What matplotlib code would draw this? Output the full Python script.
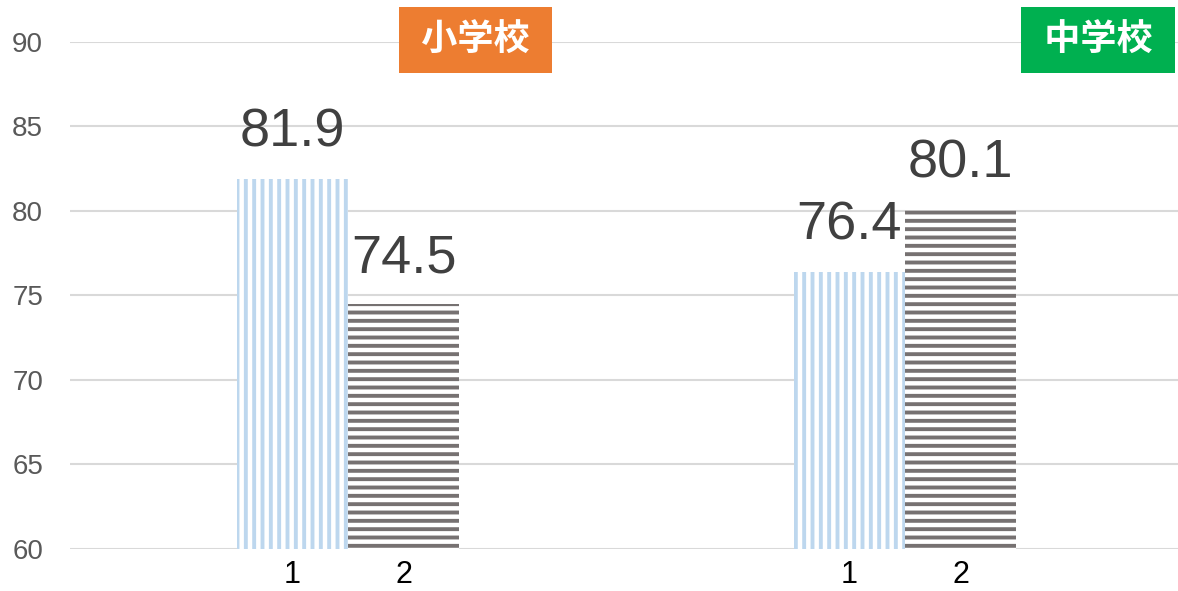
import matplotlib.pyplot as plt
import numpy as np

plt.rcParams['font.family'] = ['Liberation Sans', 'Noto Sans CJK JP', 'DejaVu Sans']
plt.rcParams['hatch.linewidth'] = 2.8

# データ
groups = ['小学校', '中学校']
series1 = [81.9, 76.4]   # 1
series2 = [74.5, 80.1]   # 2
bar_labels = ['1', '2']
group_colors = ['#ED7D31', '#00B050']

blue = '#BDD7EE'
grey = '#767171'
width = 0.2

fig = plt.figure(figsize=(11.78, 5.91), dpi=100)
ax = fig.add_axes([0.059, 0.0711, 0.9457, 0.858])

x = np.arange(len(groups))
b1 = ax.bar(x - width / 2, np.array(series1) - 60, width, bottom=60,
            facecolor='white', edgecolor=blue, hatch='||', linewidth=0, zorder=3)
b2 = ax.bar(x + width / 2, np.array(series2) - 60, width, bottom=60,
            facecolor='white', edgecolor=grey, hatch='--', linewidth=0, zorder=3)

# 数値ラベル
for bars, vals in [(b1, series1), (b2, series2)]:
    for rect, v in zip(bars, vals):
        ax.annotate(f'{v:.1f}', (rect.get_x() + rect.get_width() / 2, v),
                    xytext=(0, 15), textcoords='offset points',
                    ha='center', va='bottom', fontsize=39, color='#404040')

# 学校ラベル
label_x = [0.229, 1.347]
for gx, name, c in zip(label_x, groups, group_colors):
    ax.text(gx, 90.1, ' ' + name + ' ', ha='center', va='center',
            fontsize=26, fontweight='bold', color='white',
            family=['Noto Sans CJK JP'],
            bbox=dict(boxstyle='square,pad=0.4', fc=c, ec='none'),
            zorder=5, clip_on=False)

ax.set_xlim(-0.5, 1.5)
ax.set_ylim(60, 90)
ax.set_yticks(np.arange(60, 91, 5))
ax.set_xticks(np.concatenate([x - width / 2, x + width / 2]))
ax.set_xticklabels(bar_labels[:1] * len(groups) + bar_labels[1:] * len(groups))
ax.tick_params(axis='y', length=0, pad=19, labelsize=20, labelcolor='#595959')
ax.tick_params(axis='x', length=0, pad=8, labelsize=22, labelcolor='black')
ax.grid(axis='y', color='#D9D9D9', linewidth=1.5, zorder=0)
for s in ax.spines.values():
    s.set_visible(False)

fig.savefig('out.png', dpi=100)
